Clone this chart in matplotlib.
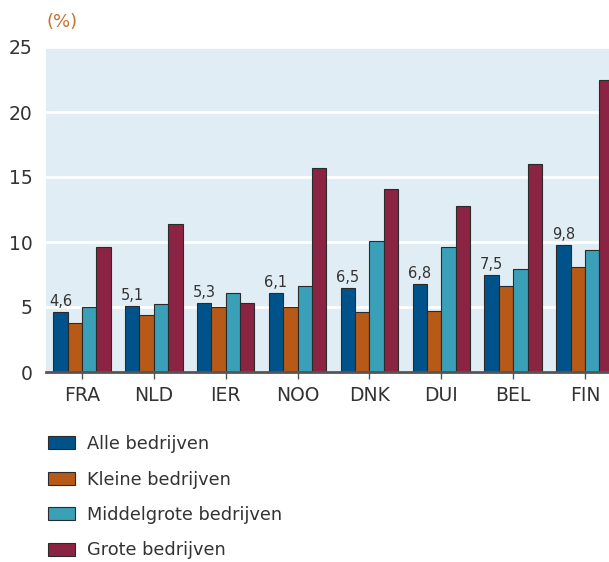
import matplotlib
matplotlib.use("Agg")
import matplotlib.pyplot as plt
import numpy as np
from matplotlib.patches import Patch

countries = ["FRA", "NLD", "IER", "NOO", "DNK", "DUI", "BEL", "FIN"]
alle = [4.6, 5.1, 5.3, 6.1, 6.5, 6.8, 7.5, 9.8]
kleine = [3.8, 4.4, 5.0, 5.0, 4.6, 4.7, 6.6, 8.1]
middel = [5.0, 5.2, 6.1, 6.6, 10.1, 9.6, 7.9, 9.4]
grote = [9.6, 11.4, 5.3, 15.7, 14.1, 12.8, 16.0, 22.5]
series_names = ["Alle bedrijven", "Kleine bedrijven", "Middelgrote bedrijven", "Grote bedrijven"]
yticks = [0, 5, 10, 15, 20, 25]

colors = ["#00538a", "#b85a17", "#3aa0b8", "#8a2442"]
bg = "#e1edf4"
txt = "#333333"
font = "DejaVu Sans"
plt.rcParams["font.family"] = font

fig = plt.figure(figsize=(6.09, 5.62), dpi=100)
W, H = 609, 562
left, right, top, bottom = 46, 621, 47, 372
ax = fig.add_axes([left / W, 1 - bottom / H, (right - left) / W, (bottom - top) / H])
ax.set_facecolor(bg)

x = np.arange(len(countries))
bw = 0.2
data = [alle, kleine, middel, grote]
for i, (vals, c) in enumerate(zip(data, colors)):
    ax.bar(x + (i - 1.5) * bw, vals, bw, color=c, edgecolor="#2a2a2a", linewidth=0.8, zorder=3)

for xi, v in zip(x, alle):
    ax.text(xi - 1.5 * bw, v + 0.22, f"{v:.1f}".replace(".", ","), ha="center", va="bottom",
            fontsize=10.5, color=txt, zorder=4)

ax.set_xlim(-0.5, len(countries) - 0.5)
ax.set_ylim(0, 25)
ax.set_yticks(yticks)
ax.set_yticklabels([str(t) for t in yticks], fontsize=13.5, color=txt)
ax.set_xticks(x)
ax.set_xticklabels(countries, fontsize=13.5, color=txt)
ax.tick_params(axis="y", length=0, pad=9.5)
ax.tick_params(axis="x", length=5, width=1, color="#555555", pad=5, direction="out")
ax.yaxis.grid(True, color="white", linewidth=2, zorder=1)
ax.set_axisbelow(True)
for s in ["left", "right", "top"]:
    ax.spines[s].set_visible(False)
ax.spines["bottom"].set_color("#555555")
ax.spines["bottom"].set_linewidth(2)
ax.spines["bottom"].set_zorder(5)

fig.text(47 / W, 1 - 22 / H, "(%)", color="#c8712f", fontsize=13, va="center", ha="left")

handles = [Patch(facecolor=c, edgecolor="#2a2a2a", linewidth=0.8) for c in colors]
fig.legend(handles, series_names, loc="upper left", bbox_to_anchor=(41 / W, 1 - 428 / H),
           frameon=False, fontsize=12.8, handlelength=1.5, handleheight=0.75,
           labelspacing=0.98, handletextpad=0.7, labelcolor=txt, borderaxespad=0)

fig.savefig("out.png", dpi=100)
